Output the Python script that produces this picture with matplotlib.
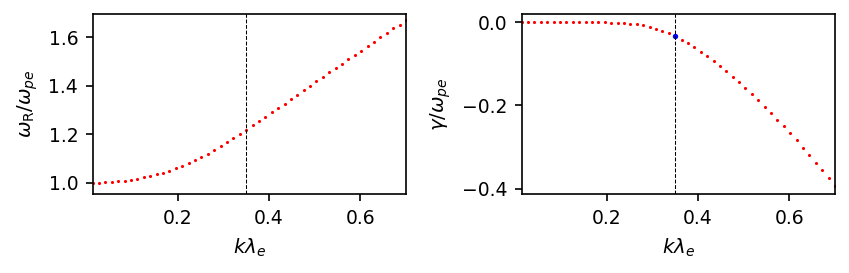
import numpy as np
import matplotlib
matplotlib.use("Agg")
import matplotlib.pyplot as plt

# k lambda_e sample points (50 values, 0.014 .. 0.700)
k_lambda = np.linspace(0.014, 0.7, 50)

omega_r = [1.000, 1.000, 1.002, 1.003, 1.007, 1.008, 1.011, 1.015, 1.023, 1.027,
           1.036, 1.040, 1.048, 1.060, 1.069, 1.081, 1.093, 1.106, 1.118, 1.135,
           1.151, 1.168, 1.184, 1.200, 1.218, 1.237, 1.254, 1.270, 1.291, 1.307,
           1.324, 1.344, 1.361, 1.382, 1.398, 1.419, 1.435, 1.456, 1.472, 1.490,
           1.509, 1.526, 1.542, 1.563, 1.579, 1.600, 1.617, 1.637, 1.653, 1.670]

gamma = [0.000, 0.000, 0.000, 0.000, 0.000, 0.000, 0.000, 0.000, 0.000, 0.000,
         0.000, 0.000, 0.000, 0.000, -0.0005, -0.001, -0.002, -0.003, -0.005, -0.007,
         -0.012, -0.017, -0.021, -0.026, -0.033, -0.043, -0.050, -0.060, -0.072, -0.081,
         -0.093, -0.105, -0.117, -0.131, -0.143, -0.157, -0.172, -0.188, -0.203, -0.217,
         -0.234, -0.250, -0.267, -0.284, -0.303, -0.320, -0.339, -0.355, -0.374, -0.394]

k_sel = 0.35
gamma_sel = -0.033

plt.rcParams["font.size"] = 9
plt.rcParams["axes.labelsize"] = 9.5

fig = plt.figure(figsize=(849 / 150, 273 / 150), dpi=150)
ax1 = fig.add_axes([0.1092, 0.2883, 0.369, 0.660])
ax2 = fig.add_axes([0.6145, 0.2883, 0.369, 0.660])

ax1.plot(k_lambda, omega_r, "o", color="red", ms=1.5, mew=0)
ax1.axvline(k_sel, color="k", ls="--", lw=0.5)
ax1.set_xlim(k_lambda[0], k_lambda[-1])
ax1.set_ylim(0.953, 1.696)
ax1.set_xticks([0.2, 0.4, 0.6])
ax1.set_yticks([1.0, 1.2, 1.4, 1.6])
ax1.set_xlabel(r"$k\lambda_e$")
ax1.set_ylabel(r"$\omega_\mathrm{R}/\omega_{pe}$")

ax2.plot(k_lambda, gamma, "o", color="red", ms=1.5, mew=0)
ax2.plot([k_sel], [gamma_sel], "o", color="blue", ms=2.6, mew=0)
ax2.axvline(k_sel, color="k", ls="--", lw=0.5)
ax2.set_xlim(k_lambda[0], k_lambda[-1])
ax2.set_xticks([0.2, 0.4, 0.6])
ax2.set_yticks([0.0, -0.2, -0.4])
ax2.set_xlabel(r"$k\lambda_e$")
ax2.set_ylabel(r"$\gamma/\omega_{pe}$")

fig.savefig("out.png", dpi=150)
